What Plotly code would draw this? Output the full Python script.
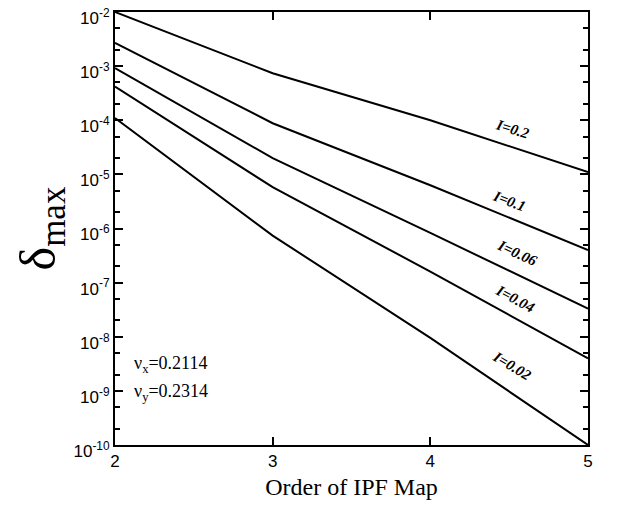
import math
import plotly.graph_objects as go

order = [2, 3, 4, 5]
series_names = ["I=0.2", "I=0.1", "I=0.06", "I=0.04", "I=0.02"]
delta_I02 = [1.0e-2, 7.4e-4, 1.0e-4, 1.1e-5]
delta_I01 = [2.7e-3, 8.8e-5, 6.3e-6, 4.0e-7]
delta_I006 = [9.2e-4, 2.0e-5, 8.3e-7, 3.3e-8]
delta_I004 = [4.2e-4, 5.8e-6, 1.6e-7, 4.0e-9]
delta_I002 = [1.1e-4, 7.4e-7, 9.5e-9, 1.0e-10]
all_series = [delta_I02, delta_I01, delta_I006, delta_I004, delta_I002]

ytick_vals = [1e-2, 1e-3, 1e-4, 1e-5, 1e-6, 1e-7, 1e-8, 1e-9, 1e-10]
ytick_text = ["10<sup>-2</sup>", "10<sup>-3</sup>", "10<sup>-4</sup>", "10<sup>-5</sup>",
              "10<sup>-6</sup>", "10<sup>-7</sup>", "10<sup>-8</sup>", "10<sup>-9</sup>",
              "10<sup>-10</sup>"]
xtick_vals = [2, 3, 4, 5]

# label placement (x in data, y as log10 of data) and rotation
label_x = [4.52, 4.50, 4.55, 4.54, 4.52]
label_logy = [-4.17, -5.50, -6.46, -7.31, -8.54]
label_angle = [17, 21, 25, 28, 31]

fig = go.Figure()
for name, vals in zip(series_names, all_series):
    fig.add_trace(go.Scatter(x=order, y=vals, mode="lines", name=name,
                             line=dict(color="black", width=2), showlegend=False))

for name, lx, ly, ang in zip(series_names, label_x, label_logy, label_angle):
    fig.add_annotation(x=lx, y=ly, yref="y", xref="x",
                       text="<b><i>%s</i></b>" % name,
                       showarrow=False, textangle=ang,
                       font=dict(family="Liberation Serif", size=15, color="black"))

fig.add_annotation(x=0.035, y=0.155, xref="paper", yref="paper", xanchor="left",
                   text="ν<sub>x</sub>=0.2114", showarrow=False,
                   font=dict(family="Liberation Serif", size=18, color="black"))
fig.add_annotation(x=0.035, y=0.09, xref="paper", yref="paper", xanchor="left",
                   text="ν<sub>y</sub>=0.2314", showarrow=False,
                   font=dict(family="Liberation Serif", size=18, color="black"))

fig.update_layout(
    width=626, height=500,
    margin=dict(l=107, r=46, t=4, b=63, autoexpand=False),
    paper_bgcolor="white", plot_bgcolor="white",
    xaxis=dict(range=[2, 5], tickvals=xtick_vals, ticks="inside", ticklen=8, tickwidth=1.5,
               tickcolor="black", showline=True, linecolor="black", linewidth=2,
               mirror="ticks", showgrid=False, zeroline=False, automargin=False,
               tickfont=dict(family="Liberation Sans", size=17, color="black"),
               title=dict(text="Order of IPF Map", standoff=8,
                          font=dict(family="Liberation Serif", size=24, color="black"))),
    yaxis=dict(type="log", range=[-10, -2], tickvals=ytick_vals, ticktext=ytick_text,
               ticks="inside", ticklen=8, tickwidth=1.5, tickcolor="black",
               showline=True, linecolor="black", linewidth=2, mirror="ticks",
               showgrid=False, zeroline=False, automargin=False,
               ticklabeloverflow="allow", ticklabelshift=6,
               minor=dict(ticks="inside", ticklen=5, tickcolor="black", showgrid=False),
               tickfont=dict(family="Liberation Sans", size=17, color="black"),
               title=dict(text="δ<sub>max</sub>", standoff=2,
                          font=dict(family="Liberation Serif", size=50, color="black"))),
)

fig.write_html("out.html")
